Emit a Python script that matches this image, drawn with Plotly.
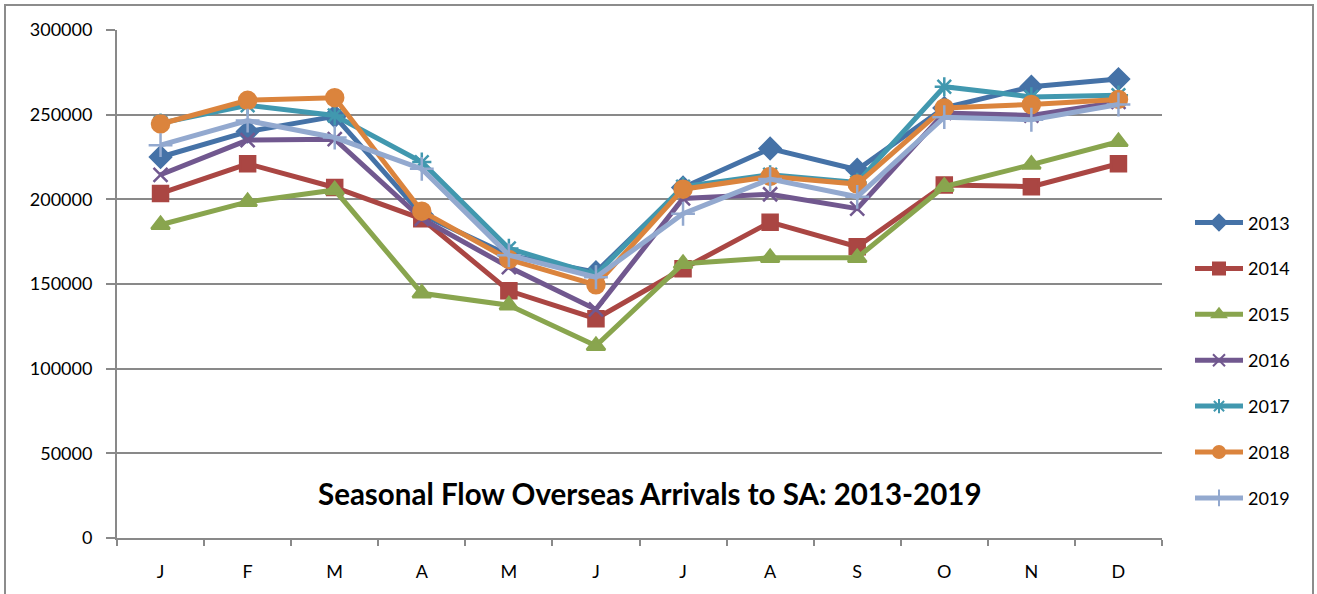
import plotly.graph_objects as go

months = ["J", "F", "M", "A", "M", "J", "J", "A", "S", "O", "N", "D"]
years = ["2013", "2014", "2015", "2016", "2017", "2018", "2019"]

y2013 = [225000, 240000, 249000, 191000, 167000, 157000, 207000, 230000, 217500, 254000, 266500, 271000]
y2014 = [203500, 221000, 207000, 188500, 146000, 129500, 159000, 186500, 172000, 208500, 207500, 221000]
y2015 = [185000, 198500, 205500, 144500, 137500, 113500, 162000, 165500, 165500, 207500, 220500, 234000]
y2016 = [214500, 235000, 235500, 188500, 160000, 135000, 200500, 203000, 194500, 251000, 249500, 257500]
y2017 = [245000, 255500, 249500, 222000, 171000, 155500, 207500, 214500, 210000, 266500, 260500, 261500]
y2018 = [244500, 258500, 260000, 193000, 164500, 149500, 206000, 213500, 209000, 254000, 256000, 259000]
y2019 = [232000, 246500, 236500, 218000, 167000, 154000, 191500, 212000, 201500, 248500, 247000, 256000]

series = [y2013, y2014, y2015, y2016, y2017, y2018, y2019]
colors = ["#4572A7", "#AA4643", "#89A54E", "#71588F", "#4198AF", "#DB843D", "#93A9CF"]
symbols = ["diamond", "square", "triangle-up", "x-thin-open", "asterisk-open", "circle", "cross-thin-open"]
sizes = [16, 15, 16, 14, 16, 17, 17]

x_idx = list(range(len(months)))

fig = go.Figure()
for name, ys, col, sym, sz in zip(years, series, colors, symbols, sizes):
    fig.add_trace(go.Scatter(
        x=x_idx, y=ys, name=name, mode="lines+markers",
        legendgroup=name,
        line=dict(color=col, width=5),
        marker=dict(symbol=sym, size=sz, color=col, line=dict(color=col, width=2.5)),
    ))

W, H = 1317, 594
L, R, T, B = 117, 155, 30, 54
pw, ph = W - L - R, H - T - B

def px(xp):
    return (xp - L) / pw

def py(yp):
    return (H - B - yp) / ph

fig.update_layout(
    width=W, height=H,
    margin=dict(l=L, r=R, t=T, b=B),
    paper_bgcolor="white", plot_bgcolor="white",
    font=dict(family="Lato", size=18, color="#000000"),
    showlegend=True,
    legend=dict(
        x=px(1190), y=py(205), xanchor="left", yanchor="top",
        font=dict(family="Lato", size=18, color="#000000"),
        itemwidth=48, tracegroupgap=19.5, itemsizing="constant",
        bgcolor="rgba(0,0,0,0)",
    ),
    xaxis=dict(
        range=[-0.5, 11.5], tickmode="array", tickvals=x_idx, ticktext=months,
        ticks="", showgrid=False, zeroline=False,
        showline=True, linecolor="#898989", linewidth=2,
        ticklabelstandoff=16,
        minor=dict(tickmode="array", tickvals=[i - 0.5 for i in range(13)],
                   ticks="outside", ticklen=6, tickcolor="#898989", tickwidth=2, showgrid=False),
    ),
    yaxis=dict(
        range=[0, 300000], dtick=50000, tickformat="d",
        showgrid=True, gridcolor="#898989", gridwidth=2, zeroline=False,
        showline=True, linecolor="#898989", linewidth=2,
        ticks="outside", ticklen=9, tickcolor="#898989", tickwidth=2,
        ticklabelstandoff=10,
    ),
    annotations=[dict(
        text="<b>Seasonal Flow Overseas Arrivals to SA: 2013-2019</b>",
        x=px(650), y=py(495), xref="paper", yref="paper",
        xanchor="center", yanchor="middle", showarrow=False,
        font=dict(family="Lato", size=29.5, color="#000000"),
    )],
    shapes=[dict(
        type="rect", xref="paper", yref="paper",
        x0=px(5), x1=px(1313), y0=py(610), y1=py(5),
        line=dict(color="#8c8c8c", width=2), fillcolor="rgba(0,0,0,0)", layer="below",
    )],
)

fig.write_html("out.html", config={"displayModeBar": False},
               post_script="document.body.style.margin='0';")
